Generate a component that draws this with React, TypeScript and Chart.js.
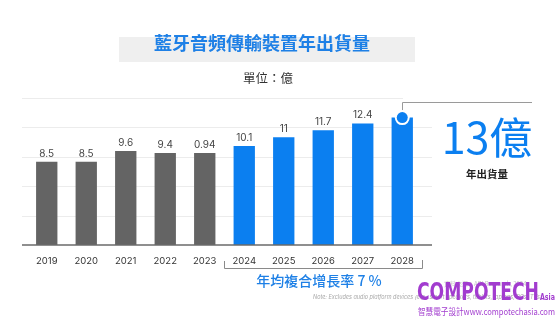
import React, { useEffect, useRef } from "react";
import { Chart, registerables } from "chart.js";

Chart.register(...registerables);

const years = ["2019", "2020", "2021", "2022", "2023", "2024", "2025", "2026", "2027", "2028"];
const shipments = [8.5, 8.5, 9.6, 9.4, 9.4, 10.1, 11, 11.7, 12.4, 13];
const valueLabels = ["8.5", "8.5", "9.6", "9.4", "0.94", "10.1", "11", "11.7", "12.4", ""];
const forecastFrom = 5;

const GRAY = "#646464";
const BLUE = "#0b7ff0";
const CJK = '"Noto Sans CJK TC", "Noto Sans", sans-serif';
const LATIN = 'Inter, "Noto Sans", sans-serif';

function fitText(ctx: any, text: string, x: number, y: number, width: number) {
  const w = ctx.measureText(text).width;
  ctx.save();
  ctx.translate(x, y);
  ctx.scale(width / w, 1);
  ctx.fillText(text, 0, 0);
  ctx.restore();
}

const decorPlugin = {
  id: "decor",
  beforeDraw(chart: any) {
    const ctx = chart.ctx;
    const y = chart.scales.y;
    ctx.save();
    // title box
    ctx.fillStyle = "#efefef";
    ctx.fillRect(119, 37, 296, 25);
    ctx.fillStyle = "#1e80e6";
    ctx.font = `bold 18px ${CJK}`;
    ctx.textAlign = "center";
    ctx.textBaseline = "middle";
    ctx.fillText("藍牙音頻傳輸裝置年出貨量", 262, 43);
    ctx.fillStyle = "#333";
    ctx.font = `12.5px ${CJK}`;
    ctx.fillText("單位：億", 268, 78);
    // grid lines
    y.ticks.forEach((t: any) => {
      if (t.value === 0) return;
      const py = Math.round(y.getPixelForValue(t.value)) + 0.5;
      ctx.beginPath();
      ctx.strokeStyle = "#ececec";
      ctx.lineWidth = 1;
      ctx.moveTo(22, py);
      ctx.lineTo(t.value === y.max ? 403 : 432, py);
      ctx.stroke();
    });
    ctx.restore();
  },
  afterDatasetsDraw(chart: any) {
    const ctx = chart.ctx;
    const x = chart.scales.x;
    const y = chart.scales.y;
    const meta = chart.getDatasetMeta(0);
    ctx.save();
    // baseline
    const by = y.getPixelForValue(0);
    ctx.strokeStyle = "#6a6a6a";
    ctx.lineWidth = 1.5;
    ctx.beginPath();
    ctx.moveTo(22, by);
    ctx.lineTo(432, by);
    ctx.stroke();

    // value labels
    ctx.fillStyle = "#444";
    ctx.font = `10px ${LATIN}`;
    ctx.textAlign = "center";
    ctx.textBaseline = "bottom";
    meta.data.forEach((bar: any, i: number) => {
      if (valueLabels[i]) ctx.fillText(valueLabels[i], bar.x, bar.y - 3);
    });

    // marker on last bar
    const last = meta.data[meta.data.length - 1];
    const cx = last.x;
    const cy = last.y;
    ctx.strokeStyle = "#9a9a9a";
    ctx.lineWidth = 1;
    ctx.beginPath();
    ctx.moveTo(Math.round(cx) + 0.5, cy - 5);
    ctx.lineTo(Math.round(cx) + 0.5, 102.5);
    ctx.lineTo(532, 102.5);
    ctx.stroke();
    ctx.fillStyle = "#fff";
    ctx.beginPath();
    ctx.arc(cx, cy, 7.5, 0, Math.PI * 2);
    ctx.fill();
    ctx.fillStyle = BLUE;
    ctx.beginPath();
    ctx.arc(cx, cy, 5.5, 0, Math.PI * 2);
    ctx.fill();

    // big number
    ctx.fillStyle = BLUE;
    ctx.font = `400 43px ${CJK}`;
    ctx.textBaseline = "alphabetic";
    ctx.textAlign = "center";
    ctx.fillText("13億", 487, 154);
    ctx.fillStyle = "#222";
    ctx.font = `bold 10.5px ${CJK}`;
    ctx.textBaseline = "middle";
    ctx.fillText("年出貨量", 487, 174);

    // bracket
    const left = (x.getPixelForValue(forecastFrom - 1) + x.getPixelForValue(forecastFrom)) / 2 - 1;
    const right = x.getPixelForValue(years.length - 1) + (x.getPixelForValue(1) - x.getPixelForValue(0)) / 2;
    ctx.strokeStyle = "#8a8a8a";
    ctx.lineWidth = 1;
    ctx.beginPath();
    ctx.moveTo(Math.round(left) + 0.5, 261);
    ctx.lineTo(Math.round(left) + 0.5, 268.5);
    ctx.lineTo(Math.round(right) + 0.5, 268.5);
    ctx.lineTo(Math.round(right) + 0.5, 260);
    ctx.stroke();

    ctx.fillStyle = "#1e80e6";
    ctx.font = `500 14px ${CJK}`;
    ctx.textAlign = "center";
    ctx.fillText("年均複合增長率 7 %", 319, 281);

    // notes
    ctx.fillStyle = "#c4c4c4";
    ctx.font = `6px ${CJK}`;
    ctx.textAlign = "left";
    ctx.fillText("資料來源：ABI Research, 2024", 444, 284);
    ctx.fillStyle = "#a8a8a8";
    ctx.font = `italic 5.5px ${LATIN}`;
    ctx.fillText("Note: Excludes audio platform devices (e.g., smart speakers, tablets, laptops, PCs, TVs)", 313, 297);

    // watermark
    ctx.fillStyle = "#a23ccf";
    ctx.textBaseline = "alphabetic";
    ctx.font = `bold 24px "DejaVu Sans Condensed", "Liberation Sans Narrow", sans-serif`;
    fitText(ctx, "COMPOTECH", 417, 300, 122);
    ctx.font = `bold 9px "DejaVu Sans Condensed", sans-serif`;
    fitText(ctx, "Asia", 540, 300, 15);
    ctx.font = `9px ${CJK}`;
    fitText(ctx, "智慧電子設計www.compotechasia.com", 418, 315, 137);
    ctx.restore();
  },
};

export default function App() {
  const ref = useRef<HTMLCanvasElement | null>(null);
  useEffect(() => {
    document.body.style.margin = "0";
    const chart = new Chart(ref.current as HTMLCanvasElement, {
      type: "bar",
      data: {
        labels: years,
        datasets: [
          {
            data: shipments,
            backgroundColor: shipments.map((_, i) => (i < forecastFrom ? GRAY : BLUE)),
            categoryPercentage: 1,
            barPercentage: 0.54,
          },
        ],
      },
      options: {
        responsive: false,
        animation: false,
        devicePixelRatio: 1,
        layout: { padding: { left: 27, right: 138, top: 98, bottom: 60 } },
        plugins: { legend: { display: false }, tooltip: { enabled: false } },
        scales: {
          x: {
            grid: { display: false, drawTicks: false },
            border: { display: false },
            ticks: { color: "#333", font: { size: 9.5, family: LATIN }, padding: 10 },
            afterFit: (s: any) => {
              s.height = 20;
            },
          },
          y: {
            display: false,
            min: 0,
            max: 15,
            ticks: { stepSize: 3 },
          },
        },
      },
      plugins: [decorPlugin],
    });
    return () => chart.destroy();
  }, []);
  return (
    <div style={{ position: "fixed", left: 0, top: 0, width: 560, height: 325, background: "#fff" }}>
      <canvas ref={ref} width={560} height={325} />
    </div>
  );
}
